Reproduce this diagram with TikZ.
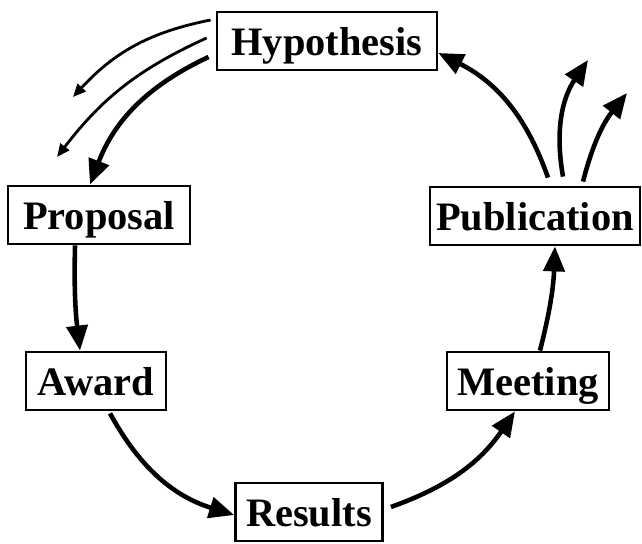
\documentclass[tikz,border=0pt]{standalone}
\usepackage{fontspec}
\setmainfont{Liberation Serif}
\usetikzlibrary{arrows.meta}

\begin{document}
\begin{tikzpicture}[
    boite/.style={draw, line width=1.6pt, inner sep=0pt, minimum height=1.16cm,
      text height=0.8cm, text depth=0.2cm,
      font=\fontsize{23}{28}\selectfont\bfseries},
    grosse/.style={line width=2.6pt, -{Triangle[length=0.5cm, width=0.42cm]}},
    fine/.style={line width=1.6pt, -{Triangle[length=0.26cm, width=0.22cm]}}]
  \useasboundingbox (0,0) rectangle (12.84,10.88);

  % Les six etapes du cycle
  \node[boite, minimum width=4.4cm] (hyp) at (6.54,10.06) {Hypothesis};
  \node[boite, minimum width=3.64cm] (prop) at (1.98,6.58) {Proposal};
  \node[boite, minimum width=2.8cm] (award) at (1.92,3.26) {Award};
  \node[boite, minimum width=2.94cm] (res) at (6.18,0.64) {Results};
  \node[boite, minimum width=3.24cm] (meet) at (10.56,3.26) {Meeting};
  \node[boite, minimum width=4.2cm] (pub) at (10.70,6.56) {Publication};

  % Bouts libres des fleches qui quittent le cycle
  \coordinate (fuiteA) at (1.46,8.94);
  \coordinate (fuiteB) at (1.14,7.74);
  \coordinate (sortieA) at (11.76,9.68);
  \coordinate (sortieB) at (12.54,9.02);

  % Le cycle
  \draw[grosse] ([xshift=-0.14cm, yshift=-0.32cm]hyp.west) to[bend right=22] ([xshift=-0.18cm]prop.north);
  \draw[grosse] ([xshift=-0.48cm]prop.south) to[bend right=4] ([xshift=-0.32cm]award.north);
  \draw[grosse] ([xshift=0.28cm, yshift=-0.04cm]award.south) to[bend right=22] ([yshift=-0.06cm]res.west);
  \draw[grosse] ([xshift=0.14cm, yshift=0.1cm]res.east) to[bend right=18] ([xshift=-0.26cm]meet.south);
  \draw[grosse] ([xshift=0.24cm]meet.north) to[bend right=6] ([xshift=0.4cm]pub.south);
  \draw[grosse] ([xshift=0.26cm, yshift=0.16cm]pub.north) to[bend right=22] ([yshift=-0.24cm]hyp.east);

  % Les pertes vers l'exterieur
  \draw[fine] ([xshift=-0.1cm, yshift=0.42cm]hyp.west) to[bend right=18] (fuiteA);
  \draw[fine] ([xshift=-0.18cm, yshift=0.06cm]hyp.west) to[bend right=14] (fuiteB);
  \draw[grosse] ([xshift=0.56cm, yshift=0.18cm]pub.north) to[bend left=22] (sortieA);
  \draw[grosse] ([xshift=0.96cm, yshift=0.08cm]pub.north) to[bend left=12] (sortieB);
\end{tikzpicture}
\end{document}
